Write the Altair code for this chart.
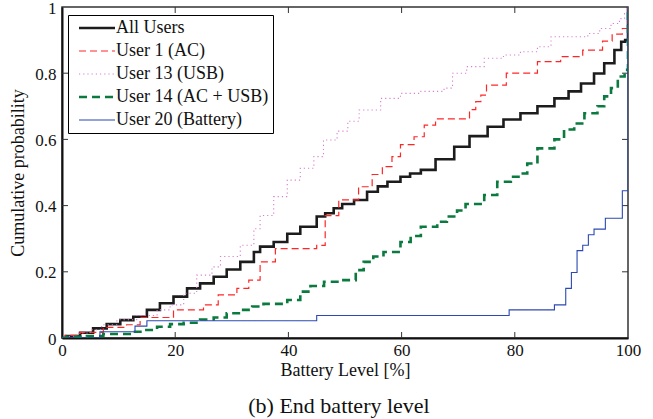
import altair as alt
import pandas as pd

# ---- data (battery level %, cumulative probability) ----
all_x = [0, 0.8, 3.2, 5.5, 7.9, 10.3, 12.6, 15, 17.3, 19.7, 22.1, 24.4, 26.8, 29.1, 31.5, 33.9, 35, 37.4,
         39.8, 42.1, 45, 46.5, 48, 49.5, 51.6, 53.9, 55.8, 57.5, 59.8, 61.5, 63.4, 66, 69.3, 72, 75.2, 78,
         81, 84, 87, 89.5, 91.7, 94, 95.8, 97.6, 98.8, 99.5, 100]
all_p = [0, 0.006, 0.016, 0.029, 0.042, 0.054, 0.064, 0.085, 0.105, 0.125, 0.15, 0.165, 0.185, 0.207, 0.23,
         0.26, 0.276, 0.29, 0.315, 0.336, 0.367, 0.377, 0.392, 0.405, 0.417, 0.442, 0.458, 0.472, 0.487, 0.497,
         0.508, 0.54, 0.578, 0.61, 0.638, 0.66, 0.679, 0.70, 0.724, 0.745, 0.769, 0.799, 0.83, 0.87, 0.895,
         0.9, 1.0]

u1_x = [0, 0.5, 3.2, 7.3, 11.4, 13.8, 19.7, 25, 27.6, 30.9, 33, 35, 37.7, 45, 46.5, 48.9, 52.4, 54.8, 56.6,
        58.3, 59.8, 62.2, 64, 66, 72, 73.1, 74, 75, 78.5, 84, 88.1, 92, 95.5, 97.2, 99, 100]
u1_p = [0, 0.008, 0.017, 0.032, 0.04, 0.062, 0.085, 0.10, 0.13, 0.15, 0.175, 0.23, 0.27, 0.28, 0.37, 0.417,
        0.457, 0.494, 0.518, 0.548, 0.584, 0.608, 0.643, 0.662, 0.69, 0.714, 0.734, 0.764, 0.80, 0.835, 0.85,
        0.87, 0.897, 0.918, 0.935, 1.0]

u13_x = [0, 1, 3, 5, 7, 9.7, 13.2, 16.8, 19.1, 21.5, 23.8, 26.5, 28, 31.5, 33.9, 35, 37.4, 39.8, 42.1, 44.5,
         46.2, 48.6, 50.5, 52.5, 56.3, 59.8, 63.4, 67.5, 69, 71.5, 74.6, 78, 81, 84, 86.4, 92.9, 95, 97, 98.5,
         99.4, 100]
u13_p = [0, 0.005, 0.015, 0.025, 0.04, 0.055, 0.068, 0.085, 0.10, 0.135, 0.19, 0.215, 0.246, 0.28, 0.33, 0.37,
         0.427, 0.477, 0.513, 0.548, 0.598, 0.625, 0.655, 0.689, 0.724, 0.739, 0.745, 0.755, 0.80, 0.82, 0.845,
         0.855, 0.865, 0.88, 0.91, 0.92, 0.935, 0.95, 0.965, 0.98, 1.0]

u14_x = [0, 0.8, 4.4, 7.3, 12.6, 14.4, 16.8, 19.1, 21.5, 24.4, 26.8, 29.1, 31.5, 33.6, 35.6, 39.8, 42.1, 43.9,
         46.3, 49.2, 51.9, 53.3, 55, 56.8, 59.8, 61.6, 63.4, 66.3, 68, 69.8, 71.3, 74.6, 76.9, 79.3, 81, 82.2,
         84, 87, 88.7, 90.5, 92.3, 94.6, 95.8, 97, 98.2, 99.4, 100]
u14_p = [0, 0.004, 0.006, 0.012, 0.019, 0.024, 0.034, 0.042, 0.046, 0.056, 0.062, 0.075, 0.085, 0.095, 0.103,
         0.115, 0.14, 0.157, 0.17, 0.175, 0.205, 0.23, 0.246, 0.26, 0.29, 0.308, 0.336, 0.351, 0.367, 0.385,
         0.405, 0.432, 0.472, 0.487, 0.497, 0.527, 0.573, 0.60, 0.63, 0.648, 0.679, 0.70, 0.73, 0.755, 0.79,
         0.81, 1.0]

u20_x = [0, 6.7, 12.9, 15, 45, 79, 87, 89, 90, 91, 92, 93, 94, 96, 99, 100]
u20_p = [0, 0.019, 0.036, 0.052, 0.068, 0.085, 0.10, 0.15, 0.198, 0.264, 0.28, 0.312, 0.329, 0.362, 0.445, 1.0]

series_names = ["All Users", "User 1 (AC)", "User 13 (USB)", "User 14 (AC + USB)", "User 20 (Battery)"]
series_colors = ["#1c1c1c", "#ff2626", "#d77fcf", "#0b7a3e", "#2b49b0"]
series_widths = [2.6, 1.2, 1.1, 2.6, 1.1]
series_dashes = [[1, 0], [7, 4], [1.2, 3], [8, 5], [1, 0]]

x_ticks = [0, 20, 40, 60, 80, 100]
y_ticks = [0, 0.2, 0.4, 0.6, 0.8, 1]
inner_x_ticks = [20, 40, 60, 80]
inner_y_ticks = [0.2, 0.4, 0.6, 0.8]

rows = []
for name, xs, ps in zip(series_names,
                        [all_x, u1_x, u13_x, u14_x, u20_x],
                        [all_p, u1_p, u13_p, u14_p, u20_p]):
    for i, (xv, pv) in enumerate(zip(xs, ps)):
        rows.append({"series": name, "level": xv, "prob": pv, "order": i})
df = pd.DataFrame(rows)

FONT = "Times New Roman, Liberation Serif, DejaVu Serif, serif"
W, H = 566, 331

xscale = alt.Scale(domain=[0, 100], nice=False, zero=False)
yscale = alt.Scale(domain=[0, 1], nice=False)

lines = alt.Chart(df).mark_line(interpolate="step-after", clip=True).encode(
    x=alt.X("level:Q", scale=xscale,
            axis=alt.Axis(values=x_ticks, title="Battery Level [%]", ticks=False, grid=False,
                          labelPadding=4, titlePadding=3, labelFlush=False)),
    y=alt.Y("prob:Q", scale=yscale,
            axis=alt.Axis(values=y_ticks, format="~g", title="Cumulative probability", ticks=False,
                          grid=False, labelPadding=6, titlePadding=7, labelFlush=False,
                          labelOffset=1)),
    color=alt.Color("series:N", scale=alt.Scale(domain=series_names, range=series_colors),
                    legend=alt.Legend(orient="none", legendX=6, legendY=8, title=None,
                                      symbolType="M-0.3333,0H5.6667", symbolSize=144,
                                      labelOffset=26, rowPadding=5, padding=4,
                                      fillColor="white", strokeColor="black",
                                      labelFont=FONT, labelFontSize=18, labelColor="#111",
                                      labelLimit=300)),
    strokeDash=alt.StrokeDash("series:N", scale=alt.Scale(domain=series_names, range=series_dashes),
                              legend=None),
    strokeWidth=alt.StrokeWidth("series:N",
                                scale=alt.Scale(type="ordinal", domain=series_names, range=series_widths),
                                legend=None),
    order="order:Q",
)

tick_style = dict(color="#333", strokeWidth=1)
xt_df = pd.DataFrame({"t": inner_x_ticks})
yt_df = pd.DataFrame({"t": inner_y_ticks})
xt_bottom = alt.Chart(xt_df).mark_rule(**tick_style).encode(
    x=alt.X("t:Q", scale=xscale), y=alt.value(H), y2=alt.value(H - 6))
xt_top = alt.Chart(xt_df).mark_rule(**tick_style).encode(
    x=alt.X("t:Q", scale=xscale), y=alt.value(0), y2=alt.value(6))
yt_left = alt.Chart(yt_df).mark_rule(**tick_style).encode(
    y=alt.Y("t:Q", scale=yscale), x=alt.value(0), x2=alt.value(6))
yt_right = alt.Chart(yt_df).mark_rule(**tick_style).encode(
    y=alt.Y("t:Q", scale=yscale), x=alt.value(W), x2=alt.value(W - 6))

chart = alt.layer(xt_bottom, xt_top, yt_left, yt_right, lines).properties(
    width=W, height=H,
    background="white",
    autosize=alt.AutoSizeParams(type="none"),
    padding={"left": 62, "top": 7, "right": 25, "bottom": 81},
    title=alt.TitleParams("(b) End battery level", orient="bottom", anchor="middle", dx=-6,
                          offset=17, font=FONT, fontSize=22, fontWeight="normal", color="#111"),
).configure_view(
    stroke="#333", strokeWidth=1.5
).configure_axis(
    labelFont=FONT, titleFont=FONT, labelFontSize=17, titleFontSize=18,
    titleFontWeight="normal", labelColor="#111", titleColor="#111",
    domainColor="#111", domainWidth=2,
)

chart.save("out.html", embed_options={"renderer": "svg", "actions": False})
